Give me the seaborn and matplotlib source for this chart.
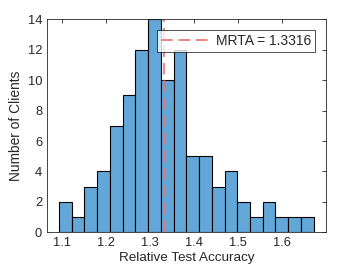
import numpy as np
import pandas as pd
import matplotlib
matplotlib.use("Agg")
import matplotlib.pyplot as plt
import seaborn as sns

# ── data ─────────────────────────────────────────────
counts = [2, 1, 3, 4, 7, 9, 12, 14, 10, 12, 5, 5, 3, 4, 2, 1, 2, 1, 1, 1]
bin_start = 1.094
bin_width = 0.0289
mrta = 1.3316

bin_end = bin_start + bin_width * len(counts)
centers = bin_start + bin_width * (np.arange(len(counts)) + 0.5)
df = pd.DataFrame({"acc": centers, "n": counts})

sns.set_theme(style="white")
plt.rcParams["font.family"] = ["Liberation Sans", "DejaVu Sans"]
INK = "#262626"

fig = plt.figure(figsize=(3.6, 2.7), dpi=100)
ax = fig.add_axes([0.1306, 0.1396, 0.775, 0.789])

sns.histplot(data=df, x="acc", weights="n", binwidth=bin_width,
             binrange=(bin_start, bin_end), ax=ax,
             color="#62a7d8", alpha=1.0, edgecolor="black", linewidth=0.8)
ax.axvline(mrta, color="#f07070", ls=(0, (7, 3.5)), lw=1.2,
           label=f"MRTA = {mrta:.4f}")

ax.set_xlim(1.067, 1.70)
ax.set_ylim(0, 14)
ax.set_xticks([1.1, 1.2, 1.3, 1.4, 1.5, 1.6])
ax.set_yticks(range(0, 15, 2))
ax.tick_params(direction="in", top=True, right=True, length=3,
               labelsize=9.3, colors=INK, width=0.6)
for s in ax.spines.values():
    s.set_color(INK)
    s.set_linewidth(0.6)
ax.set_xlabel("Relative Test Accuracy", fontsize=9.7, color=INK, labelpad=2)
ax.set_ylabel("Number of Clients", fontsize=9.9, color=INK, labelpad=3)

leg = ax.legend(loc="upper right", bbox_to_anchor=(0.961, 0.950),
                borderaxespad=0, fontsize=10, frameon=True, fancybox=False,
                handlelength=3.7, borderpad=0.3, handletextpad=0.25)
leg.get_frame().set_edgecolor("black")
leg.get_frame().set_linewidth(0.6)

fig.savefig("out.png", dpi=100)
